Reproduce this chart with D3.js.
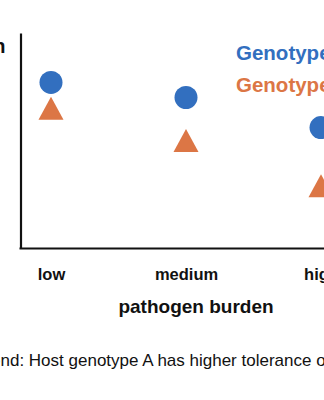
<!DOCTYPE html>
<html>
<head>
<meta charset="utf-8">
<script src="https://cdn.jsdelivr.net/npm/d3@7"></script>
<style>
    html, body { margin: 0; padding: 0; background: #fff; overflow: hidden; }
    svg { display: block; font-family: Helvetica, Arial, 'Liberation Sans', sans-serif; }
</style>
</head>
<body>
<div id="chart"></div>
<script>

// DATA

var burdenLevels    = [ 'low', 'medium', 'high' ];
var genotypeLabels  = [ 'Genotype A', 'Genotype B' ];
var genotypeA       = [ 7.7, 7.0, 5.6 ];   // host health, circles
var genotypeB       = [ 6.5, 5.0, 2.9 ];   // host health, triangles
var yTitle          = 'Host health';
var xTitle          = 'pathogen burden';
var caption         = 'Legend: Host genotype A has higher tolerance of pathogen infection';


// SETUP

var width   = 324;
var height  = 400;

var blue    = '#326fbf';
var orange  = '#dc7645';
var ink     = '#111';

var svg = d3.select( '#chart' ).append( 'svg' )
                                .attr( 'width', width )
                                .attr( 'height', height );

// Point scale padded so the axis line runs past the outer categories
var x = d3.scalePoint()
            .domain( burdenLevels )
            .range( [19, 353] )
            .padding( 0.237 );

var y = d3.scaleLinear()
            .domain( [0, 10] )
            .range( [248, 33] );

// Triangle of fixed width / height, centred on the point
function trianglePath( cx, cy ) {
    var w = 25, h = 23;
    var p = d3.path();
    p.moveTo( cx, cy - h / 2 );
    p.lineTo( cx + w / 2, cy + h / 2 );
    p.lineTo( cx - w / 2, cy + h / 2 );
    p.closePath();
    return p.toString();
}


// AXES

var yAxis = svg.append( 'g' )
                .attr( 'transform', 'translate(20.5,0)' )
                .call( d3.axisLeft( y ).tickValues( [] ).tickSizeOuter( 0 ) );

var xAxis = svg.append( 'g' )
                .attr( 'transform', 'translate(0,248)' )
                .call( d3.axisBottom( x ).tickSize( 0 ).tickSizeOuter( 0 ) );

svg.selectAll( '.domain' )
    .attr( 'stroke', ink )
    .attr( 'stroke-width', 2.2 );

xAxis.selectAll( '.tick text' )
    .attr( 'y', 32 )
    .attr( 'dy', 0 )
    .attr( 'fill', ink )
    .style( 'font-size', '16.5px' )
    .style( 'font-weight', 'bold' )
    .style( 'font-family', 'Helvetica, Arial, "Liberation Sans", sans-serif' );

// Titles (the left one runs off the page, as in the source)
svg.append( 'text' )
    .attr( 'x', 5.5 )
    .attr( 'y', 53 )
    .attr( 'text-anchor', 'end' )
    .attr( 'fill', ink )
    .style( 'font-size', '20px' )
    .style( 'font-weight', 'bold' )
    .text( yTitle );

svg.append( 'text' )
    .attr( 'x', 196 )
    .attr( 'y', 313 )
    .attr( 'text-anchor', 'middle' )
    .attr( 'fill', ink )
    .style( 'font-size', '19px' )
    .style( 'font-weight', 'bold' )
    .text( xTitle );


// MARKS

svg.append( 'g' ).selectAll( 'circle' )
    .data( genotypeA )
    .join( 'circle' )
        .attr( 'cx', function( d, i ) { return x( burdenLevels[i] ); } )
        .attr( 'cy', function( d ) { return y( d ); } )
        .attr( 'r', 11.5 )
        .attr( 'fill', blue );

svg.append( 'g' ).selectAll( 'path' )
    .data( genotypeB )
    .join( 'path' )
        .attr( 'd', function( d, i ) { return trianglePath( x( burdenLevels[i] ), y( d ) ); } )
        .attr( 'fill', orange );


// LEGEND

svg.append( 'g' ).selectAll( 'text' )
    .data( genotypeLabels )
    .join( 'text' )
        .attr( 'x', 236 )
        .attr( 'y', function( d, i ) { return 60 + i * 31.7; } )
        .attr( 'fill', function( d, i ) { return i === 0 ? blue : orange; } )
        .style( 'font-size', '20.5px' )
        .style( 'font-weight', 'bold' )
        .text( function( d ) { return d; } );


// CAPTION
// Shifted left so that "Lege" falls off the page

var cap = svg.append( 'text' )
                .attr( 'y', 366 )
                .attr( 'fill', ink )
                .style( 'font-size', '17px' )
                .text( caption );

var cut = cap.node().getSubStringLength( 0, 4 );
cap.attr( 'x', -cut + 0.5 );

</script>
</body>
</html>
